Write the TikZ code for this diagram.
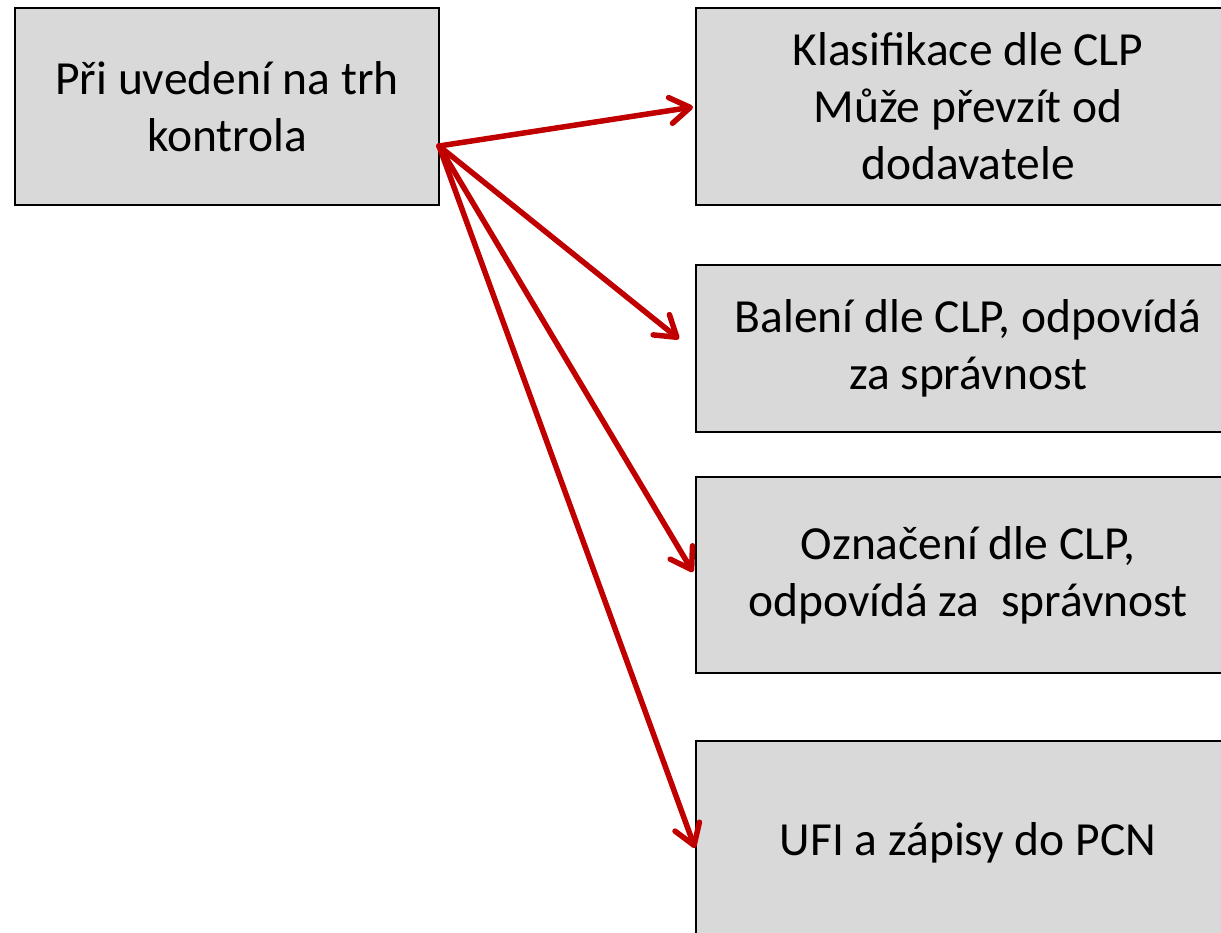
\documentclass[tikz,border=0pt]{standalone}
\usepackage{fontspec}
\setmainfont{Carlito}
\usetikzlibrary{arrows.meta}
\definecolor{boxgray}{HTML}{D9D9D9}
\definecolor{arrowred}{HTML}{C00000}
\begin{document}
\begin{tikzpicture}[x=1pt,y=-1pt,
  box/.style={draw=black, line width=2pt, fill=boxgray, inner sep=0pt,
    align=center, font=\fontsize{47.5}{57}\selectfont},
  arr/.style={draw=arrowred, line width=5.5pt, line cap=round,
    -{Straight Barb[round,length=20pt,width=26pt]}}]
\useasboundingbox (0,0) rectangle (1221,932);
\clip (0,0) rectangle (1221,932);
% source box
\node[box, minimum width=424pt, minimum height=197pt] (src) at (227,106.5)
  {Při uvedení na trh\\kontrola};
% target boxes (they run past the right and bottom edges)
\node[box, minimum width=544pt, minimum height=197pt] (t1) at (968,106.5)
  {Klasifikace dle CLP\\Může převzít od\\dodavatele};
\node[box, minimum width=544pt, minimum height=167pt] (t2) at (968,348.5)
  {Balení dle CLP, odpovídá\\za správnost};
\node[box, minimum width=544pt, minimum height=196pt] (t3) at (968,575)
  {Označení dle CLP,\\odpovídá za~ správnost};
\node[box, minimum width=544pt, minimum height=204pt] (t4) at (968,843)
  {UFI a zápisy do PCN};
% connector end points
\coordinate (s) at (439,146);
\coordinate (e1) at (693,107);
\coordinate (e2) at (679,339);
\coordinate (e3) at (693,572);
\coordinate (e4) at (695,848);
\draw[arr] (s) -- (e1);
\draw[arr] (s) -- (e2);
\draw[arr] (s) -- (e3);
\draw[arr] (s) -- (e4);
\end{tikzpicture}
\end{document}
